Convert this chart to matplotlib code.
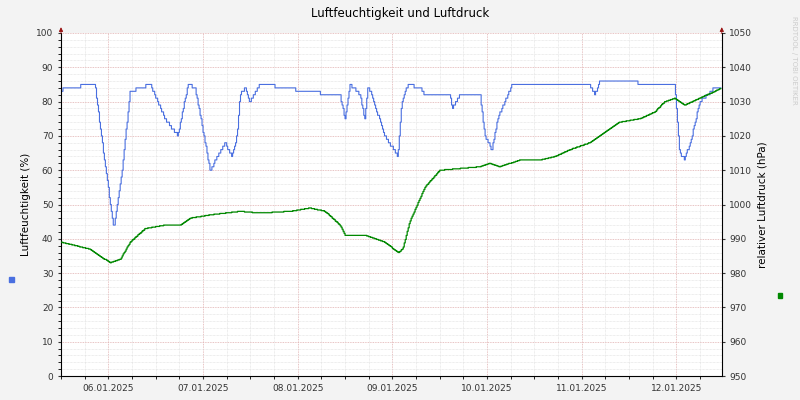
import numpy as np
import matplotlib.pyplot as plt
from matplotlib.ticker import MultipleLocator, FixedLocator

# hours since 05.01.2025 12:00
hum_h = [0, 1, 8.6, 11.1, 13.4, 15.5, 17.5, 22.6, 26.4, 29.6, 32.2, 34, 37.8, 41.6, 43.3,
         44.6, 45.4, 46.6, 47.9, 50.4, 58, 60.6, 70.7, 72, 73.2, 75.8, 77, 77.8, 82.1, 85.4,
         86.4, 87.9, 91, 92.2, 98.6, 99.1, 101.1, 106.2, 107.4, 109.2, 110.7, 112.5, 114.3,
         134, 135.3, 136.6, 155.6, 156.8, 158.1, 159.9, 161.9, 165.7, 167.5]
hum_v = [83, 84, 85, 62, 43, 60, 83, 85, 75, 70, 85, 84, 60, 68, 64,
         70, 82, 84, 80, 85, 84, 83, 82, 75, 85, 82, 75, 85, 70, 64,
         80, 85, 84, 82, 82, 78, 82, 82, 70, 66, 75, 80, 85,
         85, 82, 86, 85, 65, 63, 70, 80, 84, 84]

pres_h = [0, 7.3, 12.4, 15, 17.5, 21.3, 26.4, 30.2, 32.7, 37.8, 45.4, 50.4, 58, 63.1, 66.9,
          70.7, 72, 77, 82.1, 85.4, 86.6, 88.4, 92.2, 96, 106.2, 108.7, 111.2, 116.3, 121.4,
          125.2, 129, 134, 137.8, 141.6, 146.7, 150.5, 153, 155.6, 158.1, 161.9, 165.7, 167.5]
pres_v = [989, 987, 983, 984, 989, 993, 994, 994, 996, 997, 998, 997.5, 998, 999, 998,
          994, 991, 991, 989, 986, 987, 995, 1005, 1010, 1011, 1012, 1011, 1013, 1013,
          1014, 1016, 1018, 1021, 1024, 1025, 1027, 1030, 1031, 1029, 1031, 1033, 1034]

day_labels = ['06.01.2025', '07.01.2025', '08.01.2025', '09.01.2025',
              '10.01.2025', '11.01.2025', '12.01.2025']

# fine resolution step-like curves like rrdtool
t = np.arange(0, 167.5, 0.25)
hum = np.round(np.interp(t, hum_h, hum_v))
pres = np.round(np.interp(t, pres_h, pres_v) * 5) / 5

fig = plt.figure(figsize=(8, 4), dpi=100, facecolor='#f3f3f3')
ax = fig.add_axes([0.07625, 0.06, 0.826, 0.8575])
ax.set_facecolor('white')
ax.plot(t, hum, color='#4a6fe0', lw=0.8, drawstyle='steps-post')
ax.set_xlim(0, 167.5)
ax.set_ylim(0, 100)

ax.yaxis.set_major_locator(MultipleLocator(10))
ax.yaxis.set_minor_locator(MultipleLocator(2))
ax.xaxis.set_major_locator(FixedLocator([12 + 24 * i for i in range(7)]))
ax.xaxis.set_minor_locator(MultipleLocator(6))
ax.set_xticklabels(day_labels)
ax.grid(which='minor', color='#dcdcdc', lw=0.5, ls=(0, (1, 1)))
ax.grid(which='major', color='#e0b0b0', lw=0.6, ls=(0, (1, 1)))
ax.tick_params(labelsize=6.5, length=2, colors='#333333')
for s in ['top', 'right']:
    ax.spines[s].set_visible(False)
ax.set_ylabel('Luftfeuchtigkeit (%)', fontsize=7.5)

ax2 = ax.twinx()
ax2.plot(t, pres, color='#008800', lw=0.9, drawstyle='steps-post')
ax2.set_ylim(950, 1050)
ax2.yaxis.set_major_locator(MultipleLocator(10))
ax2.tick_params(labelsize=6.5, length=2, colors='#333333')
for s in ['top', 'left', 'bottom']:
    ax2.spines[s].set_visible(False)
ax2.set_ylabel('relativer Luftdruck (hPa)', fontsize=7.5)

# axis arrows
ax.annotate('', xy=(0, 1.025), xytext=(0, 0.99), xycoords='axes fraction',
            arrowprops=dict(arrowstyle='-|>', color='#991111', lw=0.6, mutation_scale=6))
ax.annotate('', xy=(1.0, 1.025), xytext=(1.0, 0.99), xycoords='axes fraction',
            arrowprops=dict(arrowstyle='-|>', color='#991111', lw=0.6, mutation_scale=6))

fig.text(0.5, 0.965, 'Luftfeuchtigkeit und Luftdruck', ha='center', va='center', fontsize=8.5)
fig.patches.append(plt.Rectangle((0.0112, 0.295), 0.006, 0.012, color='#4a6fe0',
                                 transform=fig.transFigure, figure=fig))
fig.patches.append(plt.Rectangle((0.972, 0.255), 0.006, 0.012, color='#008800',
                                 transform=fig.transFigure, figure=fig))
fig.text(0.993, 0.85, 'RRDTOOL / TOBI OETIKER', rotation=270, fontsize=5,
         color='#cccccc', ha='center', va='center')

fig.savefig('out.png', dpi=100, facecolor=fig.get_facecolor())
